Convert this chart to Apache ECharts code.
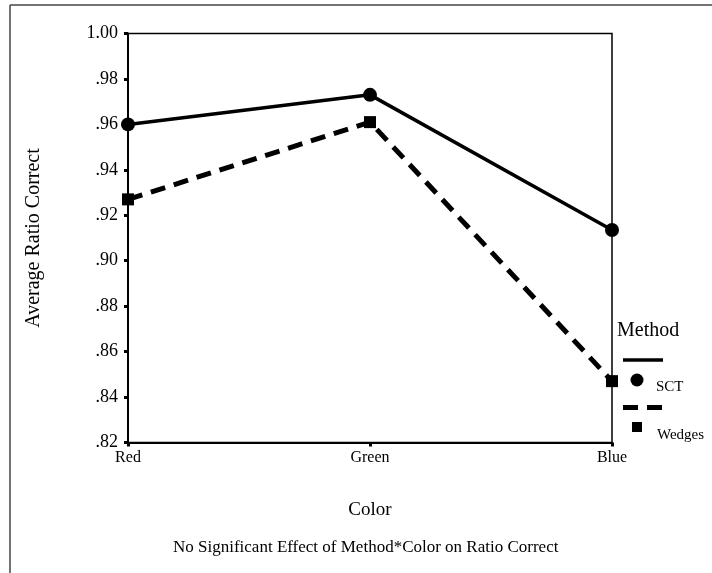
<!DOCTYPE html>
<html>
<head>
<meta charset="utf-8">
<script src="https://cdn.jsdelivr.net/npm/echarts@6/dist/echarts.min.js"></script>
<style>
  html, body { margin: 0; padding: 0; background: #fff; }
  #chart { width: 712px; height: 573px; }
</style>
</head>
<body>
<div id="chart"></div>
<script>
// Average ratio correct by color, for each method
const colors = ['Red', 'Green', 'Blue'];
const sctValues = [0.960, 0.973, 0.9135];
const wedgesValues = [0.927, 0.961, 0.847];
const yMin = 0.82, yMax = 1.00, yStep = 0.02;

const SERIF = '"Liberation Serif", "DejaVu Serif", serif';

// ".98" style labels, keeping "1.00" whole
function fmtTick(v) {
  return v.toFixed(2).replace(/^0/, '');
}

const chart = echarts.init(document.getElementById('chart'), null, { renderer: 'canvas' });

chart.setOption({
  backgroundColor: '#fff',
  animation: false,
  grid: { left: 128, right: 100, top: 33.5, bottom: 130.5, containLabel: false,
          show: true, borderColor: '#000', borderWidth: 1.5, backgroundColor: 'transparent' },
  xAxis: {
    type: 'category',
    data: colors,
    boundaryGap: false,
    name: 'Color',
    nameLocation: 'middle',
    nameGap: 58,
    nameTextStyle: { fontFamily: SERIF, fontSize: 19, color: '#000' },
    axisLine: { lineStyle: { color: '#000', width: 2 } },
    axisTick: { show: true, length: 4, lineStyle: { color: '#000', width: 3 } },
    axisLabel: { fontFamily: SERIF, fontSize: 16, color: '#000', margin: 7 },
    splitLine: { show: false }
  },
  yAxis: {
    type: 'value',
    min: yMin,
    max: yMax,
    interval: yStep,
    name: 'Average Ratio Correct',
    nameLocation: 'middle',
    nameGap: 84,
    nameTextStyle: { fontFamily: SERIF, fontSize: 20, color: '#000' },
    axisLine: { show: true, lineStyle: { color: '#000', width: 2 } },
    axisTick: { show: true, length: 4, lineStyle: { color: '#000', width: 3 } },
    axisLabel: { fontFamily: SERIF, fontSize: 18, color: '#000', margin: 10, formatter: fmtTick },
    splitLine: { show: false }
  },
  series: [
    {
      name: 'SCT',
      type: 'line',
      data: sctValues,
      symbol: 'circle',
      symbolSize: 14,
      itemStyle: { color: '#000' },
      lineStyle: { color: '#000', width: 3.5, type: 'solid' },
      z: 3
    },
    {
      name: 'Wedges',
      type: 'line',
      data: wedgesValues,
      symbol: 'rect',
      symbolSize: 12,
      itemStyle: { color: '#000' },
      lineStyle: { color: '#000', width: 5, type: [15, 9] },
      z: 3
    }
  ],
  graphic: [
    // outer frame
    { type: 'line', shape: { x1: 10, y1: 5, x2: 712, y2: 5 }, style: { stroke: '#444', lineWidth: 1.5 } },
    { type: 'line', shape: { x1: 10, y1: 5, x2: 10, y2: 573 }, style: { stroke: '#444', lineWidth: 1.5 } },
    // legend
    { type: 'text', left: 617, top: 321, style: { text: 'Method', font: '20px ' + SERIF, fill: '#000' } },
    { type: 'line', shape: { x1: 623, y1: 360, x2: 663, y2: 360 }, style: { stroke: '#000', lineWidth: 3.5 } },
    { type: 'circle', shape: { cx: 637, cy: 380, r: 6.5 }, style: { fill: '#000' } },
    { type: 'text', left: 656, top: 380, style: { text: 'SCT', font: '15px ' + SERIF, fill: '#000' } },
    { type: 'line', shape: { x1: 623, y1: 407.5, x2: 663, y2: 407.5 }, style: { stroke: '#000', lineWidth: 5, lineDash: [15, 9] } },
    { type: 'rect', shape: { x: 632, y: 422, width: 10, height: 10 }, style: { fill: '#000' } },
    { type: 'text', left: 657, top: 428, style: { text: 'Wedges', font: '15px ' + SERIF, fill: '#000' } },
    // caption
    { type: 'text', left: 173, top: 539, style: { text: 'No Significant Effect of Method*Color on Ratio Correct', font: '17px ' + SERIF, fill: '#000' } }
  ]
});
</script>
</body>
</html>
